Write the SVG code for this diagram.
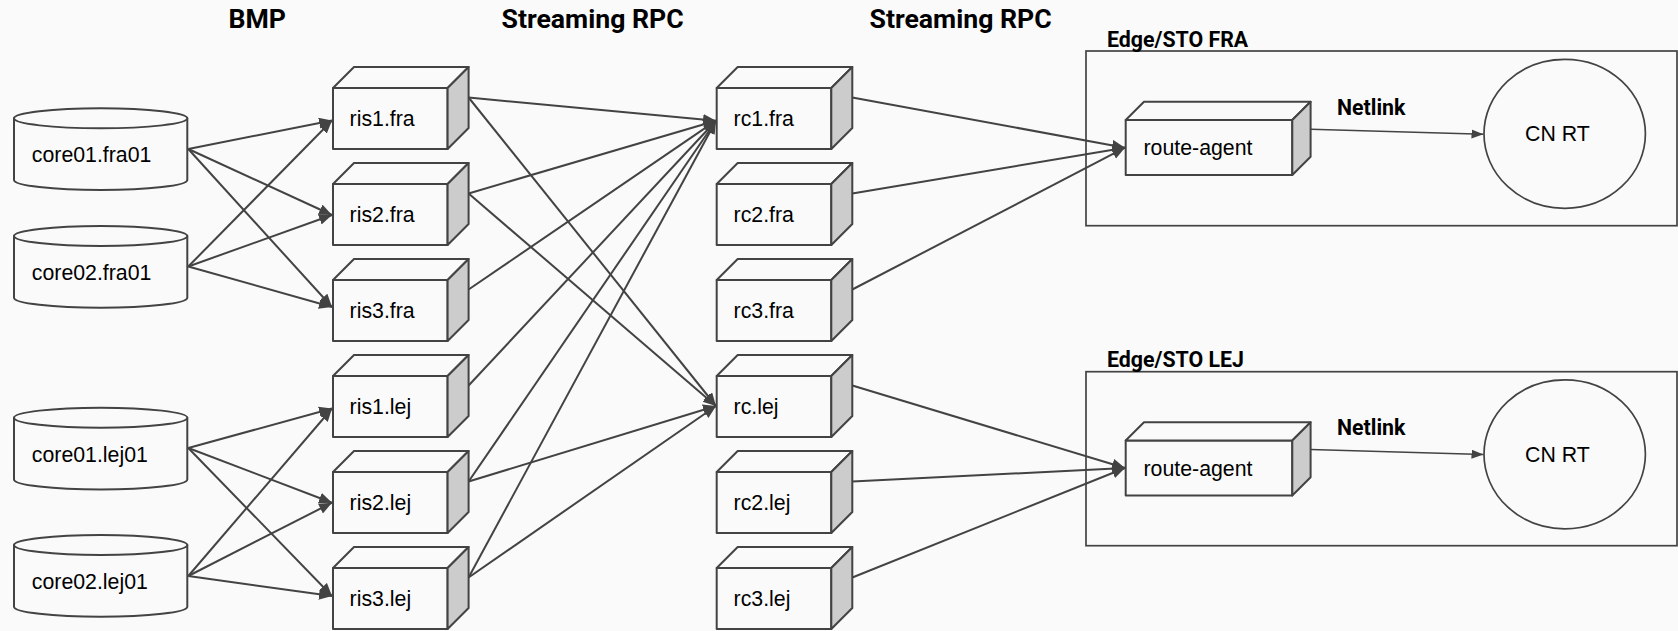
<svg xmlns="http://www.w3.org/2000/svg" xmlns:xlink="http://www.w3.org/1999/xlink" width="1678" height="631" viewBox="0 0 1678 631">
<defs>
<style>
.bg{fill:#fafafa}
.t{font-family:"Liberation Sans",Arial,sans-serif;font-size:21.3px;fill:#000}
.h{font-family:Roboto,"Liberation Sans",Arial,sans-serif;font-weight:bold;font-size:26.67px;fill:#000}
.h2{font-family:Roboto,"Liberation Sans",Arial,sans-serif;font-weight:bold;font-size:21.33px;fill:#000}
.shape{fill:#fafafa;stroke:#434343;stroke-width:2;stroke-linejoin:round}
.side{fill:#cccccc;stroke:#434343;stroke-width:2;stroke-linejoin:round}
.edge{fill:none;stroke:#434343;stroke-width:2;marker-end:url(#arr)}
.nl{fill:none;stroke:#434343;stroke-width:1.5;marker-end:url(#arr2)}
.cont{fill:none;stroke:#434343;stroke-width:1.7}
.circ{fill:#fafafa;stroke:#434343;stroke-width:1.7}
</style>
<marker id="arr" markerUnits="userSpaceOnUse" markerWidth="14" markerHeight="12" refX="13" refY="5.5" orient="auto"><path d="M0,0 L13,5.5 L0,11 Z" fill="#434343"/></marker>
<marker id="arr2" markerUnits="userSpaceOnUse" markerWidth="13" markerHeight="10" refX="12" refY="4.5" orient="auto"><path d="M0,0 L12,4.5 L0,9 Z" fill="#434343"/></marker>
<g id="cube">
<rect class="shape" x="0" y="0" width="114.6" height="61"/>
<path class="shape" d="M0,0 L21,-21 H135.6 L114.6,0 Z"/>
<path class="side" d="M114.6,0 L135.6,-21 V40 L114.6,61 Z"/>
</g>
<g id="agent">
<rect class="shape" x="0" y="0" width="166.6" height="55"/>
<path class="shape" d="M0,0 L18.3,-18.3 H184.9 L166.6,0 Z"/>
<path class="side" d="M166.6,0 L184.9,-18.3 V36.7 L166.6,55 Z"/>
</g>
<g id="cyl">
<path class="shape" d="M0,10 V71.7 A86.65,10 0 0 0 173.3,71.7 V10 Z"/>
<ellipse class="shape" cx="86.65" cy="10" rx="86.65" ry="10"/>
</g>
</defs>
<rect class="bg" x="0" y="0" width="1678" height="631"/>

<g id="titles">
<text class="h" x="228.5" y="28.3">BMP</text>
<text class="h" x="501.5" y="28.3">Streaming RPC</text>
<text class="h" x="869.5" y="28.3">Streaming RPC</text>
</g>

<g id="edge-fra">
<rect class="cont" x="1086" y="51" width="591" height="174.7"/>
<text class="h2" x="1107" y="46.7">Edge/STO FRA</text>
</g>
<g id="edge-lej">
<rect class="cont" x="1086" y="371.7" width="591" height="174"/>
<text class="h2" x="1107" y="367">Edge/STO LEJ</text>
</g>

<g id="connectors">
<line class="edge" x1="188.3" y1="149" x2="332" y2="120.5"/>
<line class="edge" x1="188.3" y1="149" x2="332" y2="215"/>
<line class="edge" x1="188.3" y1="149" x2="332" y2="307"/>
<line class="edge" x1="188.3" y1="266.5" x2="332" y2="120.5"/>
<line class="edge" x1="188.3" y1="266.5" x2="332" y2="215"/>
<line class="edge" x1="188.3" y1="266.5" x2="332" y2="307"/>
<line class="edge" x1="188.3" y1="448" x2="332" y2="408.5"/>
<line class="edge" x1="188.3" y1="448" x2="332" y2="502.7"/>
<line class="edge" x1="188.3" y1="448" x2="332" y2="596"/>
<line class="edge" x1="188.3" y1="576" x2="332" y2="408.5"/>
<line class="edge" x1="188.3" y1="576" x2="332" y2="502.7"/>
<line class="edge" x1="188.3" y1="576" x2="332" y2="596"/>

<line class="edge" x1="468.6" y1="97.5" x2="716" y2="120.7"/>
<line class="edge" x1="468.6" y1="97.5" x2="716" y2="406"/>
<line class="edge" x1="468.6" y1="193.5" x2="716" y2="120.7"/>
<line class="edge" x1="468.6" y1="193.5" x2="716" y2="406"/>
<line class="edge" x1="468.6" y1="289.5" x2="716" y2="120.7"/>
<line class="edge" x1="468.6" y1="385.5" x2="716" y2="120.7"/>
<line class="edge" x1="468.6" y1="481.5" x2="716" y2="120.7"/>
<line class="edge" x1="468.6" y1="481.5" x2="716" y2="406"/>
<line class="edge" x1="468.6" y1="577.5" x2="716" y2="120.7"/>
<line class="edge" x1="468.6" y1="577.5" x2="716" y2="406"/>

<line class="edge" x1="852.3" y1="97.5" x2="1125" y2="147.7"/>
<line class="edge" x1="852.3" y1="193.5" x2="1125" y2="147.7"/>
<line class="edge" x1="852.3" y1="289.5" x2="1125" y2="147.7"/>
<line class="edge" x1="852.3" y1="385.5" x2="1125" y2="468"/>
<line class="edge" x1="852.3" y1="481.5" x2="1125" y2="468"/>
<line class="edge" x1="852.3" y1="577.5" x2="1125" y2="468"/>

<line class="nl" x1="1310.7" y1="129.2" x2="1483.5" y2="134.3"/>
<line class="nl" x1="1310.7" y1="449.5" x2="1483.5" y2="454.5"/>
<text class="h2" x="1337" y="115">Netlink</text>
<text class="h2" x="1337" y="435.3">Netlink</text>
</g>

<g id="core01-fra01" transform="translate(14,108.3)"><use xlink:href="#cyl" href="#cyl"/><text class="t" x="17.8" y="54">core01.fra01</text></g>
<g id="core02-fra01" transform="translate(14,226)"><use xlink:href="#cyl" href="#cyl"/><text class="t" x="17.8" y="54">core02.fra01</text></g>
<g id="core01-lej01" transform="translate(14,407.7)"><use xlink:href="#cyl" href="#cyl"/><text class="t" x="17.8" y="54">core01.lej01</text></g>
<g id="core02-lej01" transform="translate(14,535)"><use xlink:href="#cyl" href="#cyl"/><text class="t" x="17.8" y="54">core02.lej01</text></g>

<g id="ris1-fra" transform="translate(333,88)"><use xlink:href="#cube" href="#cube"/><text class="t" x="16.6" y="38">ris1.fra</text></g>
<g id="ris2-fra" transform="translate(333,184)"><use xlink:href="#cube" href="#cube"/><text class="t" x="16.6" y="38">ris2.fra</text></g>
<g id="ris3-fra" transform="translate(333,280)"><use xlink:href="#cube" href="#cube"/><text class="t" x="16.6" y="38">ris3.fra</text></g>
<g id="ris1-lej" transform="translate(333,376)"><use xlink:href="#cube" href="#cube"/><text class="t" x="16.6" y="38">ris1.lej</text></g>
<g id="ris2-lej" transform="translate(333,472)"><use xlink:href="#cube" href="#cube"/><text class="t" x="16.6" y="38">ris2.lej</text></g>
<g id="ris3-lej" transform="translate(333,568)"><use xlink:href="#cube" href="#cube"/><text class="t" x="16.6" y="38">ris3.lej</text></g>

<g id="rc1-fra" transform="translate(716.7,88)"><use xlink:href="#cube" href="#cube"/><text class="t" x="16.9" y="38">rc1.fra</text></g>
<g id="rc2-fra" transform="translate(716.7,184)"><use xlink:href="#cube" href="#cube"/><text class="t" x="16.9" y="38">rc2.fra</text></g>
<g id="rc3-fra" transform="translate(716.7,280)"><use xlink:href="#cube" href="#cube"/><text class="t" x="16.9" y="38">rc3.fra</text></g>
<g id="rc-lej" transform="translate(716.7,376)"><use xlink:href="#cube" href="#cube"/><text class="t" x="16.9" y="38">rc.lej</text></g>
<g id="rc2-lej" transform="translate(716.7,472)"><use xlink:href="#cube" href="#cube"/><text class="t" x="16.9" y="38">rc2.lej</text></g>
<g id="rc3-lej" transform="translate(716.7,568)"><use xlink:href="#cube" href="#cube"/><text class="t" x="16.9" y="38">rc3.lej</text></g>

<g id="route-agent-fra" transform="translate(1125.7,120)"><use xlink:href="#agent" href="#agent"/><text class="t" x="17.8" y="35">route-agent</text></g>
<g id="route-agent-lej" transform="translate(1125.7,440.5)"><use xlink:href="#agent" href="#agent"/><text class="t" x="17.8" y="35">route-agent</text></g>

<g id="cnrt-fra"><ellipse class="circ" cx="1564.7" cy="133.8" rx="80.7" ry="74.5"/><text class="t" x="1525" y="141">CN RT</text></g>
<g id="cnrt-lej"><ellipse class="circ" cx="1564.7" cy="454.3" rx="80.7" ry="74.5"/><text class="t" x="1525" y="461.7">CN RT</text></g>
</svg>
